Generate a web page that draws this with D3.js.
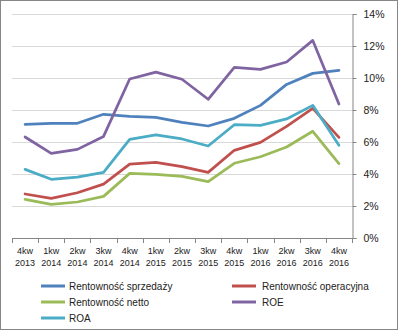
<!DOCTYPE html>
<html><head><meta charset="utf-8">
<script src="https://cdn.jsdelivr.net/npm/d3@7"></script>
<style>
body{margin:0;background:#fff;}
svg text{font-family:"Liberation Sans",Arial,sans-serif;}
</style></head>
<body>
<svg id="c" width="398" height="330"></svg>
<script>
const quarters = ["4kw","1kw","2kw","3kw","4kw","1kw","2kw","3kw","4kw","1kw","2kw","3kw","4kw"];
const years = ["2013","2014","2014","2014","2014","2015","2015","2015","2015","2016","2016","2016","2016"];
const categories = quarters.map((q,i)=>q+" "+years[i]);
const rentSprzedazy = [7.10,7.17,7.17,7.73,7.60,7.54,7.23,7.00,7.48,8.29,9.60,10.29,10.48];
const rentOperacyjna = [2.75,2.48,2.83,3.37,4.62,4.73,4.46,4.10,5.48,5.98,6.98,8.10,6.29];
const rentNetto = [2.42,2.10,2.25,2.60,4.04,3.98,3.85,3.52,4.67,5.08,5.69,6.67,4.65];
const roe = [6.31,5.29,5.54,6.35,9.94,10.37,9.92,8.67,10.67,10.54,11.00,12.35,8.37];
const roa = [4.29,3.67,3.81,4.10,6.17,6.44,6.19,5.75,7.08,7.04,7.44,8.29,5.79];
const yTicks = [0,2,4,6,8,10,12,14];

const series = [
  {name:"Rentowność sprzedaży", values:rentSprzedazy, color:"#4F81BD"},
  {name:"Rentowność operacyjna", values:rentOperacyjna, color:"#C0504D"},
  {name:"Rentowność netto", values:rentNetto, color:"#9BBB59"},
  {name:"ROE", values:roe, color:"#8064A2"},
  {name:"ROA", values:roa, color:"#4BACC6"}
];

(function(){
const svg = d3.select("#c");
const pLeft=12, pRight=352, pTop=14, pBottom=238;
const x = d3.scaleBand().domain(categories).range([pLeft,pRight]);
const y = d3.scaleLinear().domain([0,14]).range([pBottom,pTop]);

svg.append("rect").attr("x",0.5).attr("y",0.5).attr("width",397).attr("height",329)
  .attr("fill","#fff").attr("stroke","#868686");

// gridlines
svg.append("g").selectAll("line").data(yTicks.filter(d=>d>0)).join("line")
  .attr("x1",pLeft).attr("x2",pRight)
  .attr("y1",d=>Math.round(y(d))+0.5).attr("y2",d=>Math.round(y(d))+0.5)
  .attr("stroke","#D9D9D9").attr("stroke-width",1);

// right axis
const yAxis = d3.axisRight(y).tickValues(yTicks).tickSize(4).tickPadding(7)
  .tickFormat(d=>d+"%");
const gy = svg.append("g").attr("transform",`translate(${pRight+0.5},0)`).call(yAxis);
gy.select(".domain").attr("stroke","#868686");
gy.selectAll(".tick line").attr("stroke","#868686");
gy.selectAll(".tick text").attr("font-size","10.5px").attr("fill","#222")
  .attr("font-family","'Liberation Sans',Arial,sans-serif");

// x axis line
svg.append("line").attr("x1",pLeft).attr("x2",pRight+0.5)
  .attr("y1",pBottom+0.5).attr("y2",pBottom+0.5).attr("stroke","#868686");
// x ticks at band boundaries
const bounds = categories.map(c=>x(c)).concat([x(categories[categories.length-1])+x.bandwidth()]);
svg.append("g").selectAll("line").data(bounds).join("line")
  .attr("x1",d=>Math.round(d)+0.5).attr("x2",d=>Math.round(d)+0.5)
  .attr("y1",pBottom).attr("y2",pBottom+5).attr("stroke","#868686");
// x labels
const xl = svg.append("g").selectAll("text").data(categories).join("text")
  .attr("x",d=>x(d)+x.bandwidth()/2).attr("text-anchor","middle")
  .attr("font-size","9px").attr("fill","#222");
xl.append("tspan").attr("x",d=>x(d)+x.bandwidth()/2).attr("y",254).text((d,i)=>quarters[i]);
xl.append("tspan").attr("x",d=>x(d)+x.bandwidth()/2).attr("y",265.5).text((d,i)=>years[i]);

// lines
const line = d3.line().x((d,i)=>x(categories[i])+x.bandwidth()/2).y(d=>y(d));
svg.append("g").selectAll("path").data(series).join("path")
  .attr("d",d=>line(d.values)).attr("fill","none").attr("stroke",d=>d.color)
  .attr("stroke-width",2.75).attr("stroke-linejoin","round").attr("stroke-linecap","round");

// legend
const legPos = [[41,286],[232,286],[41,302],[232,302],[41,318]];
const lg = svg.append("g").selectAll("g").data(series).join("g")
  .attr("transform",(d,i)=>`translate(${legPos[i][0]},${legPos[i][1]})`);
lg.append("line").attr("x1",0).attr("x2",24).attr("y1",0).attr("y2",0)
  .attr("stroke",d=>d.color).attr("stroke-width",3);
lg.append("text").attr("x",(d,i)=>i%2===0?28:30).attr("y",3.5).attr("font-size","10px")
  .attr("fill","#222").text(d=>d.name);
})();
</script>
</body></html>
